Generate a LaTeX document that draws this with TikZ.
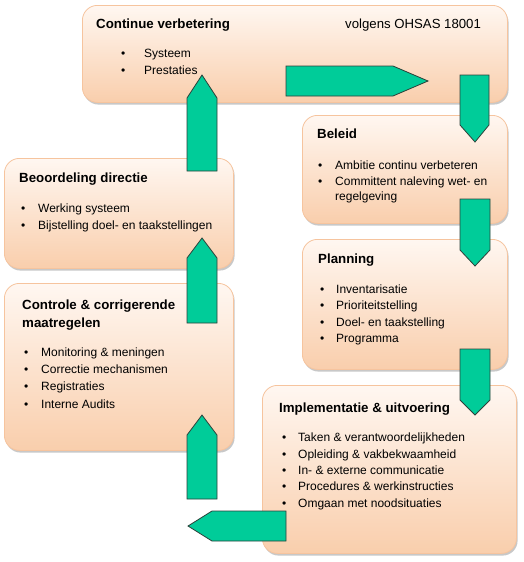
\documentclass[tikz,border=0pt]{standalone}
\usepackage{fontspec}
\setmainfont{Liberation Sans}
\usetikzlibrary{shadows}
\definecolor{boxtop}{RGB}{255,247,241}
\definecolor{boxbot}{RGB}{249,206,172}
\definecolor{boxedge}{RGB}{246,196,158}
\definecolor{arrowgreen}{RGB}{0,204,153}
\definecolor{arrowedge}{RGB}{45,65,58}
\begin{document}
\begin{tikzpicture}[x=1pt,y=-1pt,
  box/.style={draw=boxedge, line width=0.8pt, rounded corners=15pt,
    top color=boxtop, bottom color=boxbot,
    drop shadow={shadow xshift=1.2pt, shadow yshift=-2.2pt, opacity=0.3, fill=black!70},
    inner sep=0pt, anchor=north west},
  ttl/.style={anchor=base west, inner sep=0pt, font=\fontsize{13.3}{16}\selectfont\bfseries},
  txt/.style={anchor=base west, inner sep=0pt, font=\fontsize{12}{14}\selectfont},
  barrow/.style={draw=arrowedge, fill=arrowgreen, line width=0.8pt, line join=miter}]
\useasboundingbox (0,0) rectangle (523,562);
\fill[white] (0,0) rectangle (523,562);

% boxes
\node[box, minimum width=425pt, minimum height=97pt] (b1) at (82,5) {};
\node[box, minimum width=205pt, minimum height=108pt] (b2) at (302,115) {};
\node[box, minimum width=205pt, minimum height=130pt] (b3) at (302,239) {};
\node[box, minimum width=254pt, minimum height=168pt] (b4) at (262,385) {};
\node[box, minimum width=229pt, minimum height=110pt] (b5) at (4,158) {};
\node[box, minimum width=229pt, minimum height=167pt] (b6) at (4,283) {};

% box 1
\node[ttl] (t1) at (96,28) {Continue verbetering};
\node[txt, font=\fontsize{13.2}{16}\selectfont] (t1r) at (345,28) {volgens OHSAS 18001};
\node[txt] (t1b1) at (121,57) {\textbullet};
\node[txt] (t1a) at (144,57) {Systeem};
\node[txt] (t1b2) at (121,74) {\textbullet};
\node[txt] (t1c) at (144,74) {Prestaties};

% box 2
\node[ttl] (t2) at (317,138) {Beleid};
\node[txt] (t2b1) at (318,169) {\textbullet};
\node[txt] (t2a) at (335,169) {Ambitie continu verbeteren};
\node[txt] (t2b2) at (318,185) {\textbullet};
\node[txt] (t2c) at (335,185) {Committent naleving wet- en};
\node[txt] (t2d) at (335,200) {regelgeving};

% box 3
\node[ttl] (t3) at (318,263) {Planning};
\node[txt] (t3b1) at (320,293) {\textbullet};
\node[txt] (t3a) at (336,293) {Inventarisatie};
\node[txt] (t3b2) at (320,309) {\textbullet};
\node[txt] (t3c) at (336,309) {Prioriteitstelling};
\node[txt] (t3b3) at (320,326) {\textbullet};
\node[txt] (t3d) at (336,326) {Doel- en taakstelling};
\node[txt] (t3b4) at (320,342) {\textbullet};
\node[txt] (t3e) at (336,342) {Programma};

% box 4
\node[ttl] (t4) at (279,412) {Implementatie \& uitvoering};
\node[txt] (t4b1) at (282,441) {\textbullet};
\node[txt] (t4a) at (298,441) {Taken \& verantwoordelijkheden};
\node[txt] (t4b2) at (282,458) {\textbullet};
\node[txt] (t4c) at (298,458) {Opleiding \& vakbekwaamheid};
\node[txt] (t4b3) at (282,474) {\textbullet};
\node[txt] (t4d) at (298,474) {In- \& externe communicatie};
\node[txt] (t4b4) at (282,490) {\textbullet};
\node[txt] (t4e) at (298,490) {Procedures \& werkinstructies};
\node[txt] (t4b5) at (282,507) {\textbullet};
\node[txt] (t4f) at (298,507) {Omgaan met noodsituaties};

% box 5
\node[ttl] (t5) at (19,182) {Beoordeling directie};
\node[txt] (t5b1) at (21,212) {\textbullet};
\node[txt] (t5a) at (38,212) {Werking systeem};
\node[txt] (t5b2) at (21,229) {\textbullet};
\node[txt] (t5c) at (38,229) {Bijstelling doel- en taakstellingen};

% box 6
\node[ttl] (t6) at (22,309) {Controle \& corrigerende};
\node[ttl] (t6x) at (22,327) {maatregelen};
\node[txt] (t6b1) at (24,356) {\textbullet};
\node[txt] (t6a) at (41,356) {Monitoring \& meningen};
\node[txt] (t6b2) at (24,373) {\textbullet};
\node[txt] (t6c) at (41,373) {Correctie mechanismen};
\node[txt] (t6b3) at (24,390) {\textbullet};
\node[txt] (t6d) at (41,390) {Registraties};
\node[txt] (t6b4) at (24,408) {\textbullet};
\node[txt] (t6e) at (41,408) {Interne Audits};

% block arrows
\draw[barrow] (187,171) -- (187,98) -- (202,75) -- (217,98) -- (217,171) -- cycle;
\draw[barrow] (286,66) -- (393,66) -- (428,81) -- (393,96) -- (286,96) -- cycle;
\draw[barrow] (460,75) -- (489,75) -- (489,125) -- (475,142) -- (460,125) -- cycle;
\draw[barrow] (460,199) -- (490,199) -- (490,250) -- (475,266) -- (460,250) -- cycle;
\draw[barrow] (460,349) -- (490,349) -- (490,400) -- (475,415) -- (460,400) -- cycle;
\draw[barrow] (286,511) -- (212,511) -- (188,526) -- (212,541) -- (286,541) -- cycle;
\draw[barrow] (187,499) -- (187,435) -- (202,415) -- (217,435) -- (217,499) -- cycle;
\draw[barrow] (187,323) -- (187,258) -- (202,238) -- (217,258) -- (217,323) -- cycle;
\end{tikzpicture}
\end{document}
